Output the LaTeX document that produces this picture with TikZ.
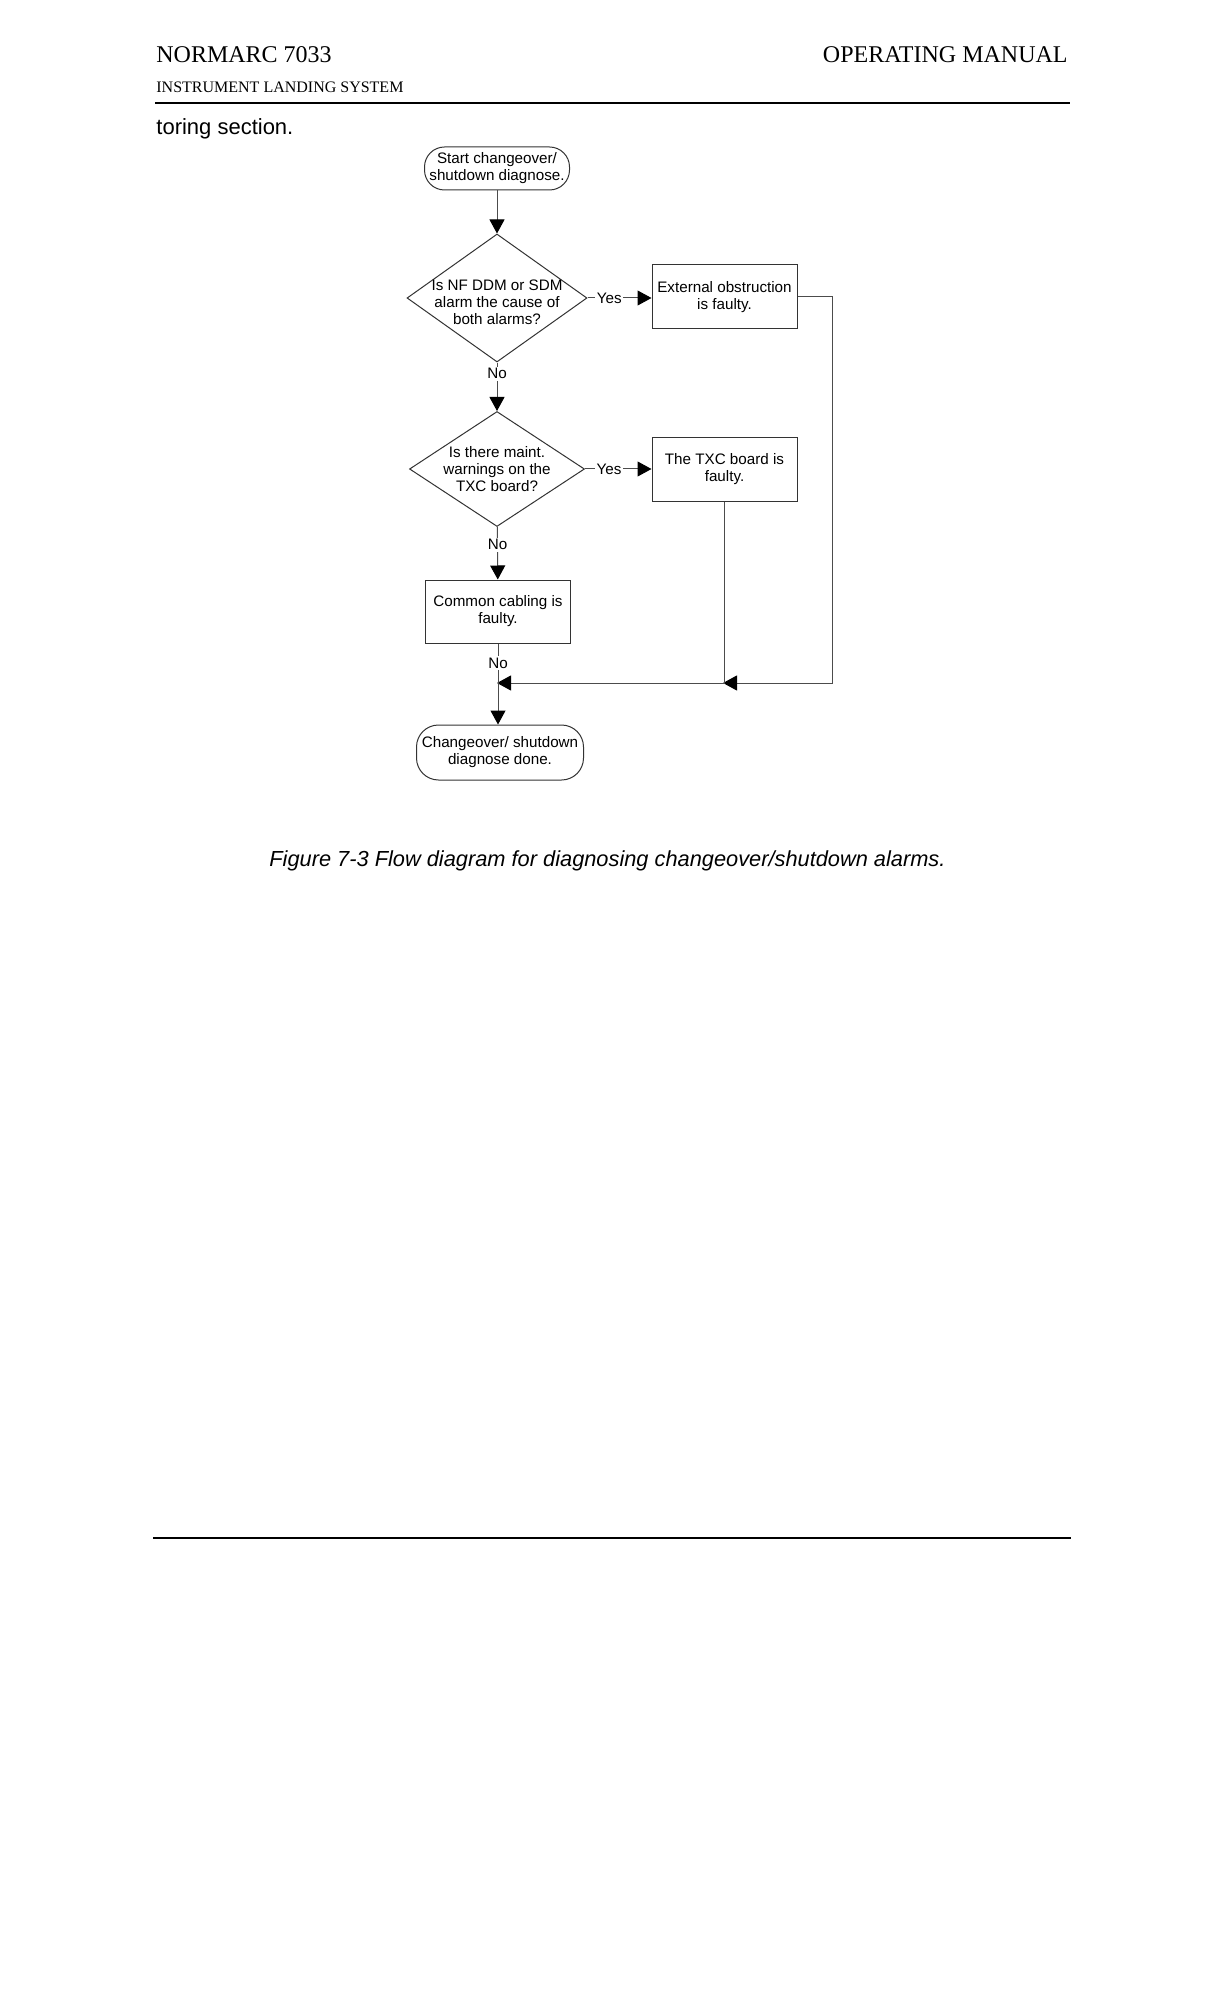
\documentclass[tikz,border=0pt]{standalone}
\usepackage{fontspec}
\setmainfont{Liberation Serif}
\setsansfont{Liberation Sans}
\usetikzlibrary{shapes.geometric,arrows.meta}
\begin{document}
\begin{tikzpicture}[x=0.5pt,y=-0.5pt,
  fc/.style={font=\sffamily\fontsize{7.6}{8.5}\selectfont, align=center},
  boxnode/.style={fc, draw=black!80, line width=0.5pt, minimum width=72.5pt, minimum height=32pt, inner sep=0pt},
  termnode/.style={boxnode, rounded corners=10pt},
  decnode/.style={diamond, draw=black!80, line width=0.5pt, inner sep=0pt},
  conn/.style={draw=black!70, line width=0.5pt},
  arr/.style={conn, -{Triangle[length=7pt,width=7.5pt,color=black]}},
  lbl/.style={fc, fill=white, inner sep=0.8pt},
  rulestyle/.style={line width=1pt, black}
]
\useasboundingbox (0,0) rectangle (1224,2016);
\fill[white] (0,0) rectangle (1224,2016);

% header
\node[anchor=base west, inner sep=0pt, font=\fontsize{12}{14}\selectfont] (hl) at (156,63) {NORMARC 7033};
\node[anchor=base east, inner sep=0pt, font=\fontsize{12}{14}\selectfont] (hr) at (1068,63) {OPERATING MANUAL};
\node[anchor=base west, inner sep=0pt, font=\fontsize{8}{9.6}\selectfont] (hs) at (156,93) {INSTRUMENT LANDING SYSTEM};
\coordinate (r1a) at (155,103);
\coordinate (r1b) at (1070,103);
\draw[rulestyle] (r1a) -- (r1b);
\node[anchor=base west, inner sep=0pt, font=\sffamily\fontsize{11}{13}\selectfont] (prev) at (156,135) {toring section.};

% flowchart nodes
\node[termnode, minimum width=72.5pt, minimum height=21.5pt] (start) at (497,168.5) {Start changeover/\\shutdown diagnose.};
\node[decnode, minimum width=90pt, minimum height=64pt] (d1) at (497,298) {};
\node[fc] (d1t) at (497,302) {Is NF DDM or SDM\\alarm the cause of\\both alarms?};
\node[boxnode] (b1) at (724.5,297) {External obstruction\\is faulty.};
\node[decnode, minimum width=87.5pt, minimum height=57.5pt] (d2) at (497,469) {};
\node[fc] (d2t) at (497,469) {Is there maint.\\warnings on the\\TXC board?};
\node[boxnode] (b2) at (724.5,469.5) {The TXC board is\\faulty.};
\node[boxnode, minimum height=31.5pt] (b3) at (498,611.5) {Common cabling is\\faulty.};
\node[termnode, rounded corners=11pt, minimum width=83.5pt, minimum height=27.5pt] (end) at (500,752.5) {Changeover/ shutdown\\diagnose done.};

% connectors
\coordinate (j1) at (497,683);
\coordinate (rc) at (832,683);
\coordinate (j2) at (723,683);
\draw[arr] (start) -- (d1);
\draw[arr] (d1) -- node[lbl, pos=0.23]{No} (d2);
\draw[arr] (d1.east) -- node[lbl, pos=0.34]{Yes} (d1.east -| b1.west);
\draw[arr] (d2.east) -- node[lbl, pos=0.36]{Yes} (d2.east -| b2.west);
\draw[arr] (d2) -- node[lbl, pos=0.34]{No} (b3);
\draw[arr] (b1.east) -- (b1.east -| rc) -- (rc) -- (j2);
\draw[arr] (b2.south) |- (j1);
\draw[arr] (b3.south) -- node[lbl, pos=0.24]{No} (b3.south |- end.north);

% caption
\node[anchor=base west, inner sep=0pt, font=\sffamily\itshape\fontsize{10.9}{13}\selectfont] (cap) at (269,866) {Figure 7-3 Flow diagram for diagnosing changeover/shutdown alarms.};

% footer rule
\coordinate (r2a) at (153,1538);
\coordinate (r2b) at (1071,1538);
\draw[rulestyle] (r2a) -- (r2b);
\end{tikzpicture}
\end{document}
